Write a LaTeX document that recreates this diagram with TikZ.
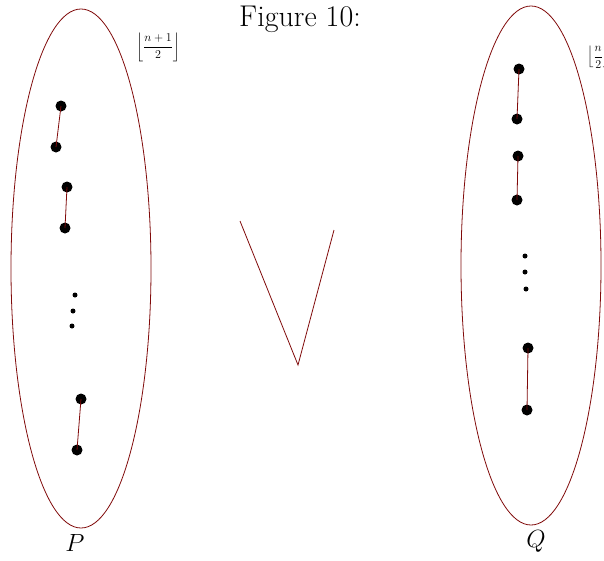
\documentclass[tikz,border=0pt]{standalone}
\usepackage{amsmath}
\usepackage{tikz}
\usetikzlibrary{shapes.geometric}
\usepackage{xcolor}
\definecolor{setred}{RGB}{128,10,10}
\tikzset{
  setbox/.style={draw=setred, ellipse, line width=0.8pt, minimum width=140pt, minimum height=519pt, inner sep=0pt},
  dot/.style={circle, fill=black, minimum size=11pt, inner sep=0pt},
  smalldot/.style={circle, fill=black, minimum size=5pt, inner sep=0pt},
  pairline/.style={draw=setred, line width=0.8pt},
  setlabel/.style={font=\fontsize{30}{34}\selectfont, inner sep=0pt},
  floorlabel/.style={font=\fontsize{12}{14}\selectfont, inner sep=0pt}
}

\begin{document}
\begin{tikzpicture}[x=1pt, y=-1pt]
\useasboundingbox (0,0) rectangle (604,560);
\node[font=\fontsize{30}{34}\selectfont, inner sep=0pt] (title) at (300,19) {Figure 10:};
% the two sets
\node[setbox] (P) at (81,268.5) {};
\node[setbox] (Q) at (531,265.5) {};
\node[setlabel] (Plabel) at (75,543) {$P$};
\node[setlabel] (Qlabel) at (536,541) {$Q$};
\node[floorlabel] (pfloor) at (158,47) {$\left\lfloor\dfrac{n+1}{2}\right\rfloor$};
\node[floorlabel, anchor=west] (qfloor) at (587,57) {$\left\lfloor\dfrac{n}{2}\right\rfloor$};
% pairs in P
\node[dot] (p1a) at (61,106) {};
\node[dot] (p1b) at (56,147) {};
\node[dot] (p2a) at (67,187) {};
\node[dot] (p2b) at (65,228) {};
\node[dot] (p3a) at (81,399) {};
\node[dot] (p3b) at (77,450) {};
\node[smalldot] (pd1) at (75,295) {};
\node[smalldot] (pd2) at (73,311) {};
\node[smalldot] (pd3) at (72,326) {};
\draw[pairline] (p1a.center) -- (p1b.center);
\draw[pairline] (p2a.center) -- (p2b.center);
\draw[pairline] (p3a.center) -- (p3b.center);
% pairs in Q
\node[dot] (q1a) at (519,69) {};
\node[dot] (q1b) at (517,119) {};
\node[dot] (q2a) at (518,156) {};
\node[dot] (q2b) at (517,200) {};
\node[dot] (q3a) at (528,348) {};
\node[dot] (q3b) at (527,410) {};
\node[smalldot] (qd1) at (525,256) {};
\node[smalldot] (qd2) at (525,272) {};
\node[smalldot] (qd3) at (526,289) {};
\draw[pairline] (q1a.center) -- (q1b.center);
\draw[pairline] (q2a.center) -- (q2b.center);
\draw[pairline] (q3a.center) -- (q3b.center);
% the vee between them
\coordinate (vleft) at (240,221);
\coordinate (vtip) at (298,365);
\coordinate (vright) at (334,230);
\draw[pairline] (vleft) -- (vtip) -- (vright);
\end{tikzpicture}
\end{document}
